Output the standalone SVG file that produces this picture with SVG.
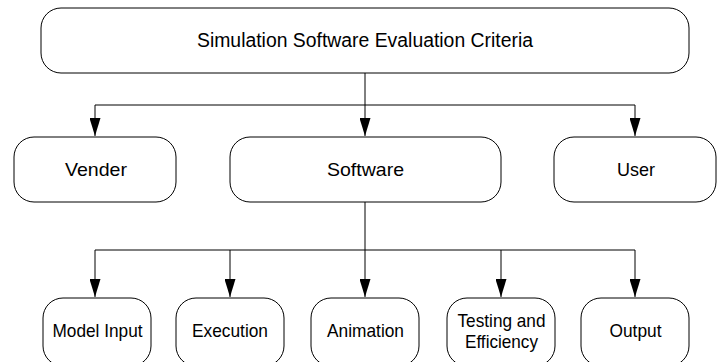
<svg xmlns="http://www.w3.org/2000/svg" width="719" height="362" viewBox="0 0 719 362">
<defs>
<marker id="arr" markerUnits="userSpaceOnUse" markerWidth="18" markerHeight="11" refX="18" refY="5.5" orient="auto">
<path d="M0,0 L18,5.5 L0,11 z" fill="#000"/>
</marker>
<style>
.box{fill:#fff;stroke:#000;stroke-width:1}
.t{font-family:"Liberation Sans",Arial,sans-serif;font-size:18.5px;fill:#000;text-anchor:middle}
.h{font-size:19.5px}
</style>
</defs>
<rect width="719" height="362" fill="#fff"/>
<g id="connectors" fill="none" stroke="#000" stroke-width="1">
<path d="M365,73 V105 M95,105 H635"/>
<path d="M95,105 V136" marker-end="url(#arr)"/>
<path d="M365,105 V136" marker-end="url(#arr)"/>
<path d="M635,105 V136" marker-end="url(#arr)"/>
<path d="M365,202 V250 M95,250 H635"/>
<path d="M95,250 V297" marker-end="url(#arr)"/>
<path d="M230,250 V297" marker-end="url(#arr)"/>
<path d="M365,250 V297" marker-end="url(#arr)"/>
<path d="M501,250 V297" marker-end="url(#arr)"/>
<path d="M635,250 V297" marker-end="url(#arr)"/>
</g>
<g id="root">
<rect class="box" x="41" y="8" width="648" height="65" rx="20"/>
<text class="t h" x="365" y="46.5" textLength="336" lengthAdjust="spacingAndGlyphs">Simulation Software Evaluation Criteria</text>
</g>
<g id="vender">
<rect class="box" x="14" y="137" width="162" height="65" rx="20"/>
<text class="t" x="96" y="176" textLength="62" lengthAdjust="spacingAndGlyphs">Vender</text>
</g>
<g id="software">
<rect class="box" x="230" y="137" width="271" height="65" rx="20"/>
<text class="t" x="365.5" y="176" textLength="77" lengthAdjust="spacingAndGlyphs">Software</text>
</g>
<g id="user">
<rect class="box" x="554" y="137" width="162" height="65" rx="20"/>
<text class="t" x="636" y="176" textLength="38" lengthAdjust="spacingAndGlyphs">User</text>
</g>
<g id="model-input">
<rect class="box" x="43" y="298" width="108" height="68" rx="20"/>
<text class="t" x="97.5" y="337" textLength="90" lengthAdjust="spacingAndGlyphs">Model Input</text>
</g>
<g id="execution">
<rect class="box" x="176" y="298" width="108" height="68" rx="20"/>
<text class="t" x="230" y="337" textLength="76" lengthAdjust="spacingAndGlyphs">Execution</text>
</g>
<g id="animation">
<rect class="box" x="311" y="298" width="108" height="68" rx="20"/>
<text class="t" x="365.5" y="337" textLength="77" lengthAdjust="spacingAndGlyphs">Animation</text>
</g>
<g id="testing">
<rect class="box" x="447" y="298" width="108" height="68" rx="20"/>
<text class="t" x="501.5" y="326.5" textLength="88" lengthAdjust="spacingAndGlyphs">Testing and</text>
<text class="t" x="501.5" y="347.5" textLength="73" lengthAdjust="spacingAndGlyphs">Efficiency</text>
</g>
<g id="output">
<rect class="box" x="581" y="298" width="108" height="68" rx="20"/>
<text class="t" x="635.5" y="337" textLength="52" lengthAdjust="spacingAndGlyphs">Output</text>
</g>
</svg>
